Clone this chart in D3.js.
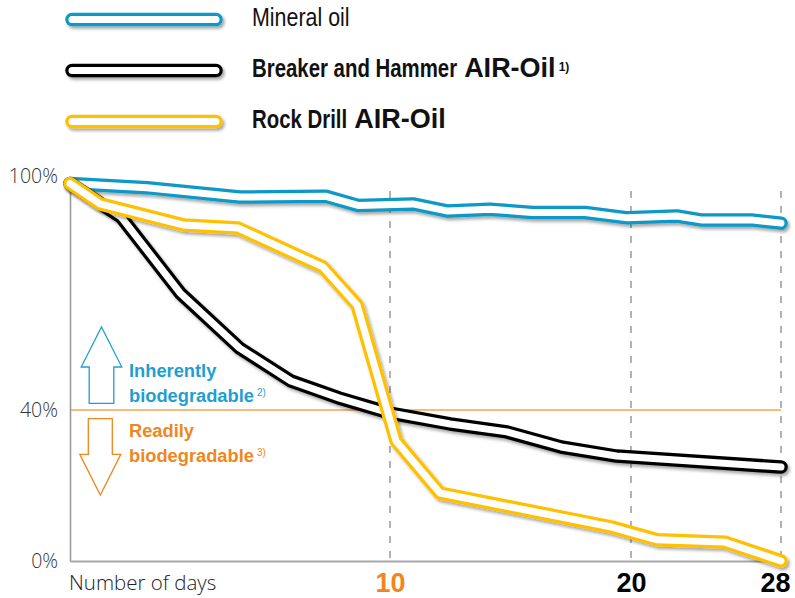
<!DOCTYPE html>
<html>
<head>
<meta charset="utf-8">
<script src="https://cdn.jsdelivr.net/npm/d3@7"></script>
<style>
body { margin: 0; background: #fff; }
svg { display: block; }
</style>
</head>
<body>
<svg id="chart" width="795" height="598"></svg>
<script>
// ---------- data ----------
const seriesNames = ["Mineral oil", "Breaker and Hammer", "Rock Drill"];
const seriesBrand = ["", "AIR-Oil", "AIR-Oil"];
const seriesNotes = ["", "1)", ""];
const seriesColors = ["#0a98c6", "#000000", "#ffc000"];

const mineralDays   = [0, 2.4, 5.3, 8.0, 9.0, 10.95, 12.4, 14.15, 15.9, 18.1, 19.85, 22.45, 23.8, 26.5, 28];
const mineralValues = [100, 98.9, 96.4, 96.6, 94.2, 94.6, 92.7, 93.2, 92.3, 92.3, 90.9, 91.4, 90.3, 90.3, 89.5];

const breakerDays   = [0, 1.6, 3.44, 5.3, 6.9, 8.4, 10, 12.5, 14.85, 17.1, 19.4, 28];
const breakerValues = [100, 91.1, 71.0, 56.4, 47.7, 43.2, 39.2, 36.3, 34.2, 30.2, 27.8, 24.9];

const rockDays   = [0, 0.94, 3.56, 5.25, 7.9, 8.97, 10.25, 12.07, 19.2, 21.4, 25.0, 28];
const rockValues = [100, 94.6, 89.0, 88.2, 77.9, 67.8, 31.8, 18.0, 9.0, 5.6, 5.0, 0];

const xTickDays = [10, 20, 28];
const xTickColors = ["#f0861e", "#000", "#000"];
const yTickValues = [0, 40, 100];
const thresholdValue = 40;

// ---------- scales ----------
const svg = d3.select("#chart");
// the original's day axis is compressed toward the end (non-uniform spacing)
const x = d3.scaleLinear().domain([0, 10, 20, 28]).range([70, 390, 631, 781]);
const y = d3.scaleLinear().domain([0, 100]).range([561, 183.5]);

const defs = svg.append("defs");
const f = defs.append("filter").attr("id", "shadow")
  .attr("filterUnits", "userSpaceOnUse")
  .attr("x", 0).attr("y", 0).attr("width", 795).attr("height", 598);
f.append("feDropShadow").attr("dx", 2).attr("dy", 2.5).attr("stdDeviation", 1.6)
  .attr("flood-color", "#000").attr("flood-opacity", 0.35);

// ---------- grid ----------
svg.append("g").selectAll("line").data(xTickDays).join("line")
  .attr("x1", d => x(d)).attr("x2", d => x(d))
  .attr("y1", y(98)).attr("y2", y(0))
  .attr("stroke", "#8a8a8a").attr("stroke-width", 1.3)
  .attr("stroke-dasharray", "7,8");

// threshold line
svg.append("line")
  .attr("x1", x(0)).attr("x2", x(28))
  .attr("y1", y(thresholdValue)).attr("y2", y(thresholdValue))
  .attr("stroke", "#f5a552").attr("stroke-width", 1.6);

// ---------- axes ----------
const yAxis = svg.append("g").attr("transform", `translate(${x(0)},0)`)
  .call(d3.axisLeft(y).tickValues(yTickValues).tickSize(0).tickPadding(12)
        .tickFormat(d => d + "%"));
yAxis.select(".domain").attr("stroke", "#9a9a9a").attr("stroke-width", 1.6);
yAxis.selectAll("text")
  .attr("font-family", "'Open Sans', sans-serif").attr("font-weight", 300)
  .attr("font-size", 19.5).attr("fill", "#333")
  .attr("dy", d => d === 100 ? "-0.03em" : "0.32em");

const xAxis = svg.append("g").attr("transform", `translate(0,${y(0)})`)
  .call(d3.axisBottom(x).tickValues(xTickDays).tickSize(0).tickSizeOuter(0).tickFormat(d => d));
xAxis.select(".domain").attr("stroke", "#a8a8a8").attr("stroke-width", 2);
xAxis.selectAll("text")
  .attr("font-family", "'Liberation Sans', Arial, sans-serif").attr("font-weight", 700)
  .attr("font-size", 27)
  .attr("fill", (d, i) => xTickColors[i])
  .attr("y", 31).attr("dy", 0)
  .attr("text-anchor", d => d === 28 ? "end" : "middle")
  .attr("x", d => d === 28 ? 9 : 0);

svg.append("text")
  .attr("x", x(0) - 1).attr("y", 590)
  .attr("font-family", "'Open Sans', sans-serif").attr("font-weight", 300)
  .attr("font-size", 20.5).attr("fill", "#222")
  .text("Number of days");

// ---------- series ----------
const line = d3.line().x(d => x(d[0])).y(d => y(d[1]));
const series = [
  d3.zip(mineralDays, mineralValues),
  d3.zip(breakerDays, breakerValues),
  d3.zip(rockDays, rockValues)
];

function drawDouble(g, pathD, color) {
  const gg = g.append("g").attr("filter", "url(#shadow)");
  gg.append("path").attr("d", pathD).attr("fill", "none")
    .attr("stroke", color).attr("stroke-width", 13.5)
    .attr("stroke-linejoin", "round").attr("stroke-linecap", "round");
  gg.append("path").attr("d", pathD).attr("fill", "none")
    .attr("stroke", "#fff").attr("stroke-width", 7)
    .attr("stroke-linejoin", "round").attr("stroke-linecap", "round");
}

const plot = svg.append("g");
series.forEach((s, i) => drawDouble(plot, line(s), seriesColors[i]));

// ---------- legend ----------
const legendY = [19.5, 70.5, 121.5];
const legend = svg.append("g");
const narrow = 0.8;
seriesNames.forEach((name, i) => {
  drawDouble(legend, `M72,${legendY[i]}H216`, seriesColors[i]);
  const base = legendY[i] + 6.5;
  const sx = i === 0 ? 0.84 : narrow;
  const t = legend.append("text")
    .attr("transform", `translate(252,${base}) scale(${sx},1)`)
    .attr("font-family", "'Liberation Sans', Arial, sans-serif")
    .attr("font-size", 25.5).attr("fill", "#111")
    .attr("font-weight", i === 0 ? 400 : 700)
    .text(name);
  let endX = 252 + t.node().getComputedTextLength() * sx;
  if (seriesBrand[i]) {
    const b = legend.append("text")
      .attr("x", endX + 7).attr("y", base)
      .attr("font-family", "'Liberation Sans', Arial, sans-serif")
      .attr("font-weight", 700).attr("font-size", 27).attr("fill", "#111")
      .text(seriesBrand[i]);
    endX = endX + 7 + b.node().getComputedTextLength();
  }
  if (seriesNotes[i]) {
    legend.append("text")
      .attr("x", endX + 3).attr("y", base - 6)
      .attr("font-family", "'Liberation Sans', Arial, sans-serif")
      .attr("font-weight", 700).attr("font-size", 12).attr("fill", "#111")
      .text(seriesNotes[i]);
  }
});

// ---------- annotations ----------
const y40 = y(thresholdValue);
const cx = x(0) + 31.5;
const upArrow = `M${cx},${y40 - 83} L${cx + 20.3},${y40 - 43} L${cx + 12.3},${y40 - 43} L${cx + 12.3},${y40 - 6.7}
  L${cx - 12.3},${y40 - 6.7} L${cx - 12.3},${y40 - 43} L${cx - 20.3},${y40 - 43} Z`;
const dx = x(0) + 30.3;
const downArrow = `M${dx - 12},${y40 + 8.7} L${dx + 12},${y40 + 8.7} L${dx + 12},${y40 + 44.3} L${dx + 20.5},${y40 + 44.3}
  L${dx},${y40 + 85} L${dx - 20.5},${y40 + 44.3} L${dx - 12},${y40 + 44.3} Z`;
svg.append("path").attr("d", upArrow).attr("fill", "#fff").attr("stroke", "#1f9fd0").attr("stroke-width", 1.3);
svg.append("path").attr("d", downArrow).attr("fill", "#fff").attr("stroke", "#f0861e").attr("stroke-width", 1.3);

const notes = [
  { lines: ["Inherently", "biodegradable"], sup: "2)", color: "#1f9fd0", base: y40 - 33 },
  { lines: ["Readily", "biodegradable"], sup: "3)", color: "#f0861e", base: y40 + 27 }
];
notes.forEach(n => {
  n.lines.forEach((l, j) => {
    const t = svg.append("text")
      .attr("x", x(0) + 59).attr("y", n.base + j * 24.5)
      .attr("font-family", "'Liberation Sans', Arial, sans-serif")
      .attr("font-weight", 700).attr("font-size", 18.3).attr("fill", n.color)
      .text(l);
    if (j === 1) {
      t.append("tspan").attr("font-weight", 400).attr("font-size", 10)
        .attr("dx", 3).attr("dy", -6).text(n.sup);
    }
  });
});
</script>
</body>
</html>
